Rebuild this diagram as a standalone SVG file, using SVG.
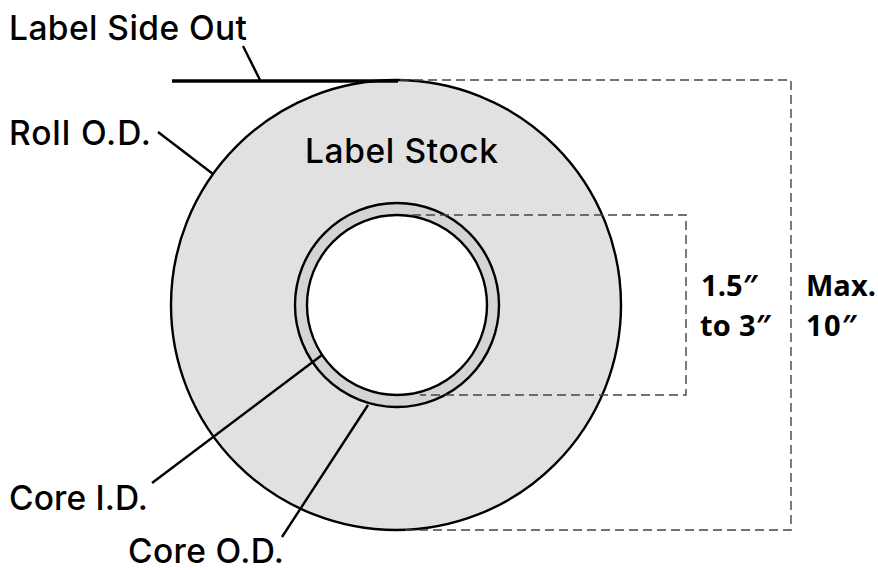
<svg xmlns="http://www.w3.org/2000/svg" width="878" height="570" viewBox="0 0 878 570">
<style>
.t{font-family:Inter,"Liberation Sans",Arial,sans-serif;font-size:33.5px;font-weight:500;fill:#000}
.n{font-family:"Open Sans","Noto Sans",sans-serif;font-size:29px;font-weight:700;fill:#000}
.d{fill:none;stroke:#444;stroke-width:1.4;stroke-dasharray:9 5}
.l{fill:none;stroke:#000;stroke-width:2.4}
.c{stroke:#000;stroke-width:2.4}
</style>
<rect width="878" height="570" fill="#fff"/>
<g id="roll"><circle cx="396" cy="305" r="225" fill="#e1e1e1" class="c"/></g>
<g id="core-od"><circle cx="397" cy="305" r="102" fill="#d4d4d2" class="c"/></g>
<g id="core-id"><circle cx="397" cy="305" r="90" fill="#fff" class="c"/></g>
<g id="connectors">
<path class="d" d="M400 80H791V530H400"/>
<path class="d" d="M412 215H686V395H420"/>
<path d="M172 81H398" fill="none" stroke="#000" stroke-width="3.4"/>
<path class="l" d="M243 46L260 80"/>
<path class="l" d="M158 132L213 174"/>
<path class="l" d="M152 483L322 355"/>
<path class="l" d="M282 537L368 405"/>
</g>
<g id="label-side-out"><text class="t" x="9" y="40" textLength="238" lengthAdjust="spacing">Label Side Out</text></g>
<g id="roll-od"><text class="t" x="9" y="145" textLength="142" lengthAdjust="spacing">Roll O.D.</text></g>
<g id="label-stock"><text class="t" x="305" y="163" textLength="193" lengthAdjust="spacing">Label Stock</text></g>
<g id="core-id-label"><text class="t" x="9" y="510" textLength="139" lengthAdjust="spacing">Core I.D.</text></g>
<g id="core-od-label"><text class="t" x="128" y="563" textLength="156" lengthAdjust="spacing">Core O.D.</text></g>
<g id="dim-core"><text class="n" x="701" y="296" textLength="57" lengthAdjust="spacing">1.5″</text><text class="n" x="700" y="336" textLength="71" lengthAdjust="spacing">to 3″</text></g>
<g id="dim-roll"><text class="n" x="806" y="296" textLength="70" lengthAdjust="spacing">Max.</text><text class="n" x="806" y="336" textLength="51" lengthAdjust="spacing">10″</text></g>
</svg>
